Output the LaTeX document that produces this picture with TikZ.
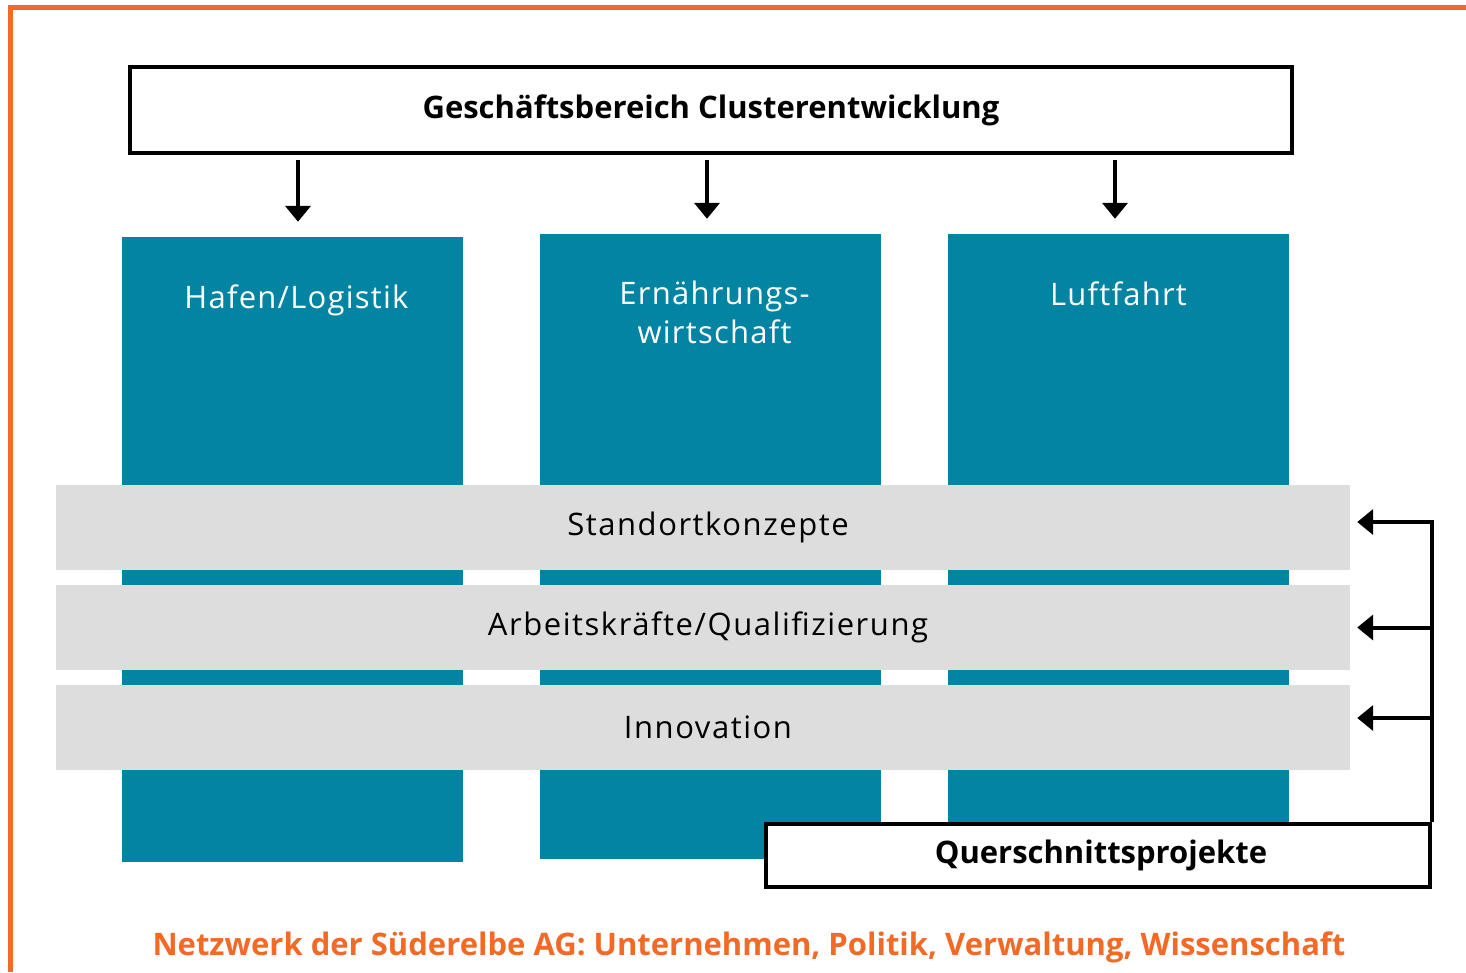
\documentclass[tikz,border=0pt]{standalone}
\usepackage{fontspec}
\setmainfont{Open Sans}
\usepackage{tikz}
\usetikzlibrary{positioning,arrows.meta}
\definecolor{clorange}{HTML}{F26A26}
\definecolor{clteal}{HTML}{0284A2}
\definecolor{clgray}{HTML}{DDDDDD}

\begin{document}
\begin{tikzpicture}[x=1pt,y=-1pt, every node/.style={font=\fontsize{31}{39}\selectfont}]
\tikzset{
  column/.style={fill=clteal,draw=none,minimum width=341pt,minimum height=625pt,inner sep=0pt},
  coltext/.style={text=white,align=center,anchor=north,font=\fontsize{31}{39}\selectfont\addfontfeatures{LetterSpace=4}},
  band/.style={fill=clgray,draw=none,minimum width=1294pt,minimum height=85pt,inner sep=0pt,
    font=\fontsize{31}{39}\selectfont\addfontfeatures{LetterSpace=5},execute at begin node=\hspace*{10pt}},
  frame/.style={draw=black,line width=4.5pt,fill=white,inner sep=0pt},
  feed/.style={-{Triangle[width=25pt,length=16pt]},line width=4pt}
}
\useasboundingbox (0,0) rectangle (1466,972);
% orange corner of the page
\draw[clorange,line width=5pt] (10.5,972) -- (10.5,7.5) -- (1466,7.5);

% head box
\node[frame,minimum width=1162pt,minimum height=86pt,font=\fontsize{31}{39}\selectfont\bfseries] (head) at (711,110) {Geschäftsbereich Clusterentwicklung};

% three clusters
\node[column] (hafen) at (292.5,549.5) {};
\node[column] (ernaehrung) at (710.5,546.5) {};
\node[column] (luft) at (1118.5,546.5) {};
\node[coltext,below=44pt of hafen.north,xshift=4pt] (hafentxt) {Hafen/Logistik};
\node[coltext,below=44pt of ernaehrung.north,xshift=4pt] (ernaehrungtxt) {Ernährungs-\\wirtschaft};
\node[coltext,below=44pt of luft.north] (lufttxt) {Luftfahrt};

\foreach \c/\dx in {hafen/5.5,ernaehrung/-3.5,luft/-3.5}
  \draw[feed,shorten <=5pt,shorten >=15pt] ([xshift=\dx pt]head.south -| \c.north) -- ([xshift=\dx pt]\c.north);

% cross-cutting topics
\node[band] (standort) at (703,527.5) {Standortkonzepte};
\node[band] (arbeit) at (703,627.5) {Arbeitskräfte/Qualifizierung};
\node[band] (innov) at (703,727.5) {Innovation};

% project box with feedback bracket
\node[frame,minimum width=664pt,minimum height=63pt,font=\fontsize{31}{39}\selectfont\bfseries] (quer) at (1098,855.5) {\hspace*{6pt}Querschnittsprojekte};
\coordinate (rail) at ([yshift=5.5pt]quer.north east |- standort.east);
\draw[feed,shorten >=7pt] (quer.north east) -- (rail) -- (standort.east |- rail);
\draw[feed,shorten >=7pt] (arbeit.east -| rail) -- (arbeit.east);
\draw[feed,shorten >=7pt] ([yshift=9.5pt]innov.east -| rail) -- ([yshift=9.5pt]innov.east);

\node[text=clorange,font=\fontsize{31}{39}\selectfont\bfseries] (netz) at (749,947) {Netzwerk der Süderelbe AG: Unternehmen, Politik, Verwaltung, Wissenschaft};
\end{tikzpicture}
\end{document}
